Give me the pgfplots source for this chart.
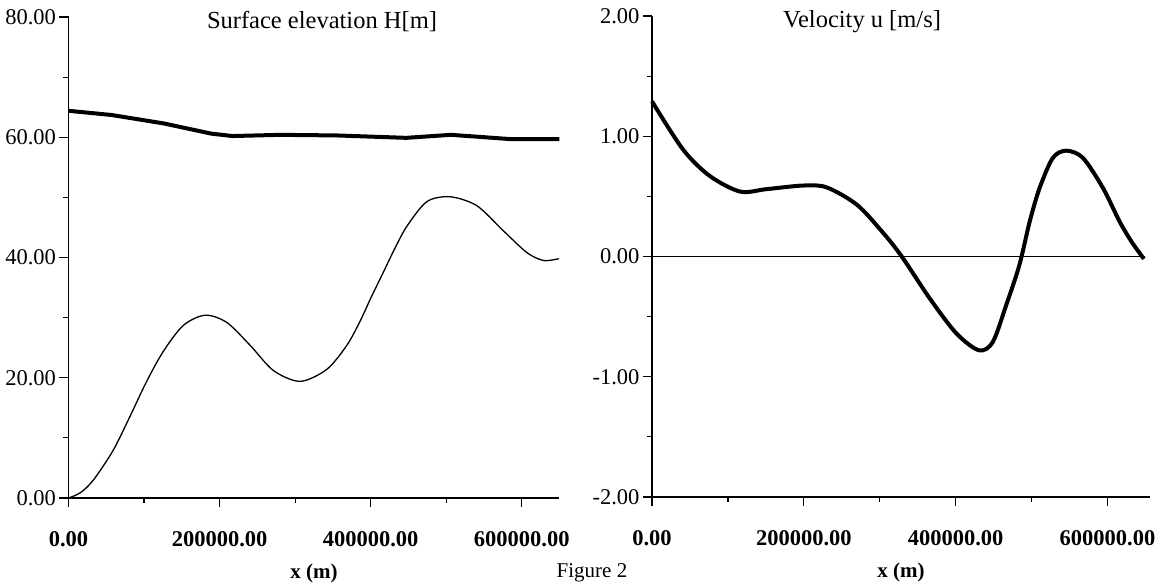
\documentclass[border=0pt]{standalone}
\usepackage{fontspec}
\setmainfont{Liberation Serif}
\usepackage{pgfplots}
\pgfplotsset{compat=1.18}

\pgfplotsset{
  scanplot/.style={
    scale only axis, height=481pt,
    axis lines=left, axis line style={-, line width=1.3pt},
    tick align=outside, major tick length=9pt, minor tick length=5pt,
    every tick/.style={black, line width=1.2pt},
    minor x tick num=1, minor y tick num=1,
    xtick={0,200000,400000,600000},
    scaled x ticks=false, scaled y ticks=false,
    /pgf/number format/fixed, /pgf/number format/fixed zerofill,
    /pgf/number format/precision=2, /pgf/number format/1000 sep={},
    /pgf/number format/assume math mode=true,
    xticklabel style={font=\bfseries\fontsize{22.5}{25}\selectfont, yshift=-21pt},
    yticklabel style={font=\fontsize{22.5}{25}\selectfont},
    xlabel={x (m)},
    xlabel style={font=\bfseries\fontsize{21}{24}\selectfont, at={(axis description cs:0.5,0)}, anchor=center, yshift=-75pt},
    clip=false,
  }
}

\begin{document}
\begin{tikzpicture}
\useasboundingbox (0,0) rectangle (1161pt,585pt);

% surface elevation
\begin{axis}[scanplot, at={(68.5pt,87pt)}, anchor=south west, width=491pt,
  xmin=0, xmax=650000, ymin=0, ymax=80, ytick={0,20,40,60,80}]
\addplot[black, line width=4pt] coordinates {
  (0,64.4) (57000,63.7) (126000,62.3) (189000,60.6) (217000,60.2)
  (280000,60.4) (355000,60.3) (447000,59.9) (506000,60.4) (540000,60.1)
  (584000,59.7) (650000,59.7)};
\addplot[black, line width=1.3pt, smooth] coordinates {
  (0,0) (16000,0.9) (33000,3.0) (59000,7.9) (81500,13.6) (103500,19.4)
  (125600,24.4) (152000,28.7) (180800,30.4) (209500,29.2) (240400,25.4)
  (271300,21.2) (306600,19.4) (342000,21.4) (368500,25.4) (386000,29.4)
  (400000,33.2) (417000,37.6) (432000,41.5) (448000,45.2) (474500,49.3)
  (505300,50.1) (540700,48.6) (576000,44.4) (607000,40.8) (629000,39.5)
  (649000,39.8)};
\end{axis}

% velocity
\begin{axis}[scanplot, at={(652pt,88pt)}, anchor=south west, width=498pt,
  xmin=0, xmax=656000, ymin=-2, ymax=2, ytick={-2,-1,0,1,2}]
\addplot[black, line width=1.2pt] coordinates {(0,0) (650000,0)};
\addplot[black, line width=4pt, smooth] coordinates {
  (0,1.29) (40800,0.89) (76000,0.67) (116000,0.54) (151000,0.56)
  (199000,0.59) (230000,0.575) (270000,0.43) (304000,0.2) (329000,0.0)
  (366000,-0.35) (401000,-0.64) (430700,-0.78)
  (449000,-0.71) (466800,-0.40) (484000,-0.07) (497500,0.29)
  (510600,0.57) (528000,0.82) (545700,0.88) (567600,0.82) (594000,0.57)
  (616000,0.29) (632000,0.12) (648000,-0.02)};
\end{axis}

\node[font=\fontsize{24.5}{27}\selectfont] at (322pt,563pt) {Surface elevation H[m]};
\node[font=\fontsize{24.5}{27}\selectfont] at (862pt,563pt) {Velocity u [m/s]};
\node[font=\fontsize{21}{24}\selectfont, anchor=south, inner sep=0pt] at (592pt,3pt) {Figure 2};
\end{tikzpicture}
\end{document}
